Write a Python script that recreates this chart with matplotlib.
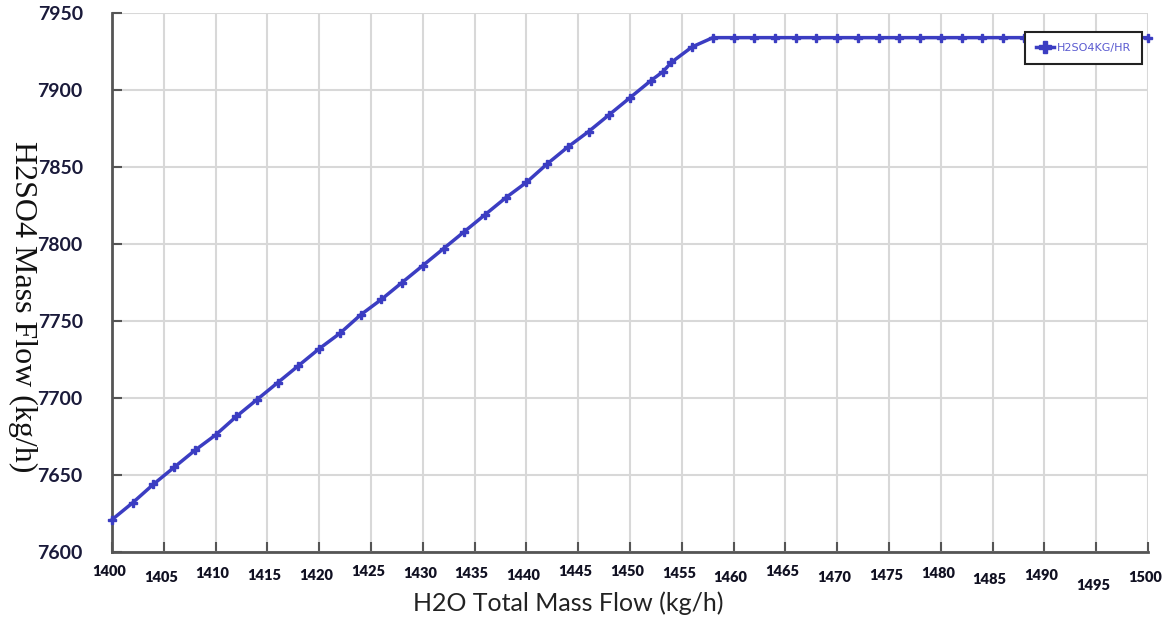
import numpy as np
import matplotlib
matplotlib.use("Agg")
import matplotlib.pyplot as plt

# datos
h2o_flow = [1400, 1402, 1404, 1406, 1408, 1410, 1412, 1414, 1416, 1418,
            1420, 1422, 1424, 1426, 1428, 1430, 1432, 1434, 1436, 1438,
            1440, 1442, 1444, 1446, 1448, 1450, 1452, 1453.2, 1454, 1456,
            1458, 1460, 1462, 1464, 1466, 1468, 1470, 1472, 1474, 1476,
            1478, 1480, 1482, 1484, 1486, 1488, 1490, 1492, 1494, 1496,
            1498, 1500]
h2so4_flow = [7621, 7632, 7644, 7655, 7666, 7676, 7688, 7699, 7710, 7721,
              7732, 7742, 7754, 7764, 7775, 7786, 7797, 7808, 7819, 7830,
              7840, 7852, 7863, 7873, 7884, 7895, 7906, 7912, 7918, 7928,
              7934, 7934, 7934, 7934, 7934, 7934, 7934, 7934, 7934, 7934,
              7934, 7934, 7934, 7934, 7934, 7934, 7934, 7934, 7934, 7934,
              7934, 7934]

x_ticks = list(range(1400, 1501, 5))
y_ticks = [7600, 7650, 7700, 7750, 7800, 7850, 7900, 7950]
# desplazamiento vertical (px) de cada etiqueta del eje x, como en la imagen
x_label_shift = [0, 6, 2, 4, 4, 1, 2, 2, 4, 1, 1, 2, 6, 0, 6, 5, 2, 9, 4, 14, 6]

fig = plt.figure(figsize=(11.64, 6.17), dpi=100)
ax = fig.add_axes([112 / 1164, 1 - 552 / 617, (1148 - 112) / 1164, (552 - 13) / 617])

line_color = "#3b3dc2"
ax.plot(h2o_flow, h2so4_flow, color=line_color, linewidth=2.5, marker="P",
        markersize=6, label="H2SO4KG/HR", clip_on=False, zorder=3)

ax.set_xlim(1400, 1500)
ax.set_ylim(7600, 7950)
ax.set_xticks(x_ticks)
ax.set_yticks(y_ticks)
ax.grid(True, color="#d8d8d8", linewidth=1.5)
ax.set_axisbelow(True)

for s in ["top", "right"]:
    ax.spines[s].set_visible(False)
for s in ["left", "bottom"]:
    ax.spines[s].set_color("#555555")
    ax.spines[s].set_linewidth(2)

ax.tick_params(direction="in", length=7, width=1.5, color="#555555")
ax.tick_params(axis="y", labelsize=14, pad=21, labelcolor="#1a1a3a")
ax.set_yticklabels([str(v) for v in y_ticks], family="Lato", fontweight="bold")

ax.set_xticklabels([str(v) for v in x_ticks], family="Lato", fontweight="heavy",
                   fontsize=10.5, color="#111122")
ax.tick_params(axis="x", pad=9)
for lab, dy in zip(ax.get_xticklabels(), x_label_shift):
    lab.set_transform(lab.get_transform() + matplotlib.transforms.ScaledTranslation(-3 / 100, -dy / 100, fig.dpi_scale_trans))

# titulos de los ejes colocados a mano
fig.text(568 / 1164, 1 - 603 / 617, "H2O Total Mass Flow (kg/h)", family="Lato",
         fontsize=18, color="#222222", ha="center", va="center")
fig.text(23 / 1164, 1 - 307 / 617, "H2SO4 Mass Flow (kg/h)", family="Liberation Serif",
         fontsize=23, color="#111111", ha="center", va="center", rotation=270)

leg = ax.legend(loc="upper right", bbox_to_anchor=(1.0, 0.975), fancybox=False, edgecolor="#222222",
                fontsize=8, handlelength=1.6, handletextpad=0.3, borderpad=1.0, framealpha=1,
                markerscale=1.4)
leg.get_frame().set_linewidth(1.5)
for t in leg.get_texts():
    t.set_color("#5a5ad0")

fig.savefig("out.png", dpi=100)
